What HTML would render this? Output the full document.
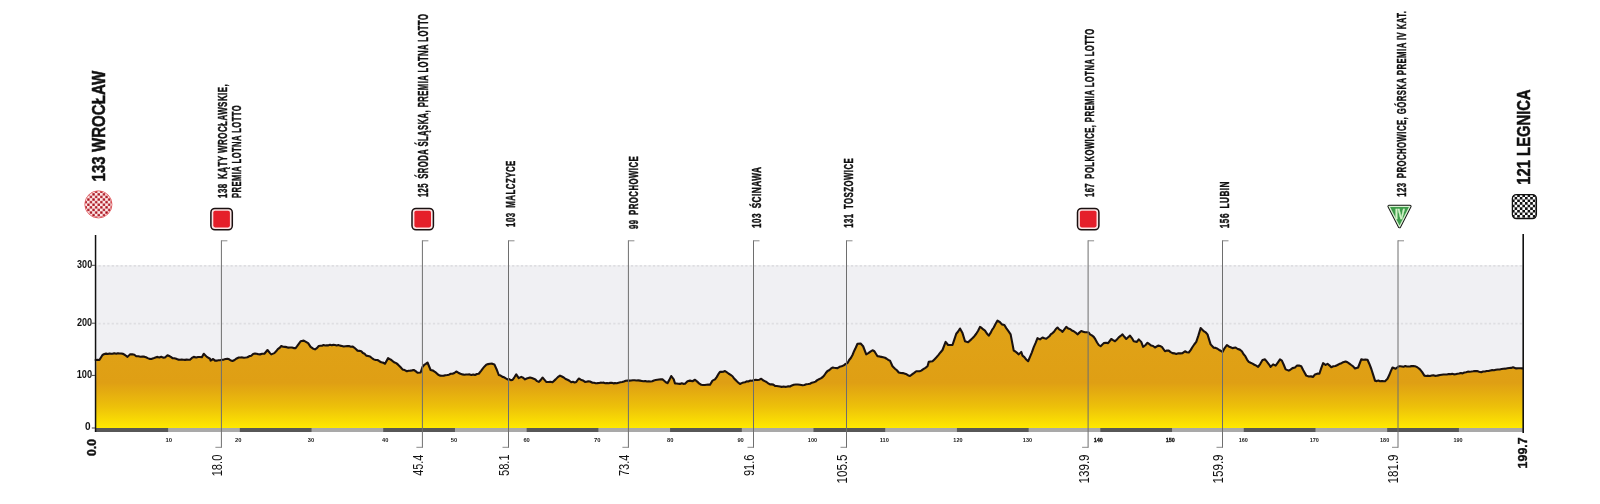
<!DOCTYPE html>
<html><head><meta charset="utf-8"><title>Profile</title>
<style>html,body{margin:0;padding:0;background:#fff;width:1600px;height:504px;overflow:hidden}
svg{display:block;font-family:"Liberation Sans",sans-serif;will-change:transform}</style></head>
<body>
<svg width="1600" height="504" viewBox="0 0 1600 504" font-family="Liberation Sans, sans-serif"><rect x="95.5" y="265.3" width="1427.7" height="162.7" fill="#f0f0f3"/>
<line x1="98.5" y1="265.8" x2="1523.2" y2="265.8" stroke="#dedee2" stroke-width="1.8" stroke-dasharray="2.2 2.2"/>
<line x1="98.5" y1="323.6" x2="1523.2" y2="323.6" stroke="#dedee2" stroke-width="1.8" stroke-dasharray="2.2 2.2"/>
<defs><linearGradient id="g" x1="0" y1="320" x2="0" y2="428" gradientUnits="userSpaceOnUse"><stop offset="0" stop-color="#e0a318"/><stop offset="0.58" stop-color="#df9f14"/><stop offset="0.8" stop-color="#edc00a"/><stop offset="1" stop-color="#ffe900"/></linearGradient></defs>
<path d="M95.5 428.0 L96.30 360.00 L95.62 360.00 L97.50 359.84 L99.38 360.00 L102.50 355.00 L104.38 354.00 L106.06 353.64 L107.75 354.04 L109.44 353.47 L111.12 353.83 L112.81 353.63 L114.50 353.30 L116.19 353.66 L117.88 353.18 L119.56 353.49 L121.25 353.50 L123.12 353.86 L125.00 355.00 L127.50 356.88 L130.00 354.38 L132.19 354.19 L134.38 354.75 L136.25 356.25 L138.33 356.27 L140.42 356.71 L142.50 356.50 L144.25 356.66 L146.00 357.25 L147.75 358.11 L149.50 358.90 L151.25 359.00 L153.33 358.36 L155.42 357.49 L157.50 356.88 L159.38 357.46 L161.25 356.78 L163.12 357.67 L165.00 357.50 L167.50 355.25 L169.17 356.02 L170.83 356.85 L172.50 358.12 L174.38 358.19 L176.25 358.77 L178.12 359.63 L180.00 359.75 L181.67 359.46 L183.33 359.82 L185.00 359.88 L186.67 359.64 L188.33 359.79 L190.00 359.75 L191.88 357.92 L193.75 356.88 L196.25 357.50 L198.12 357.02 L200.00 357.07 L201.88 357.25 L203.75 353.75 L206.88 356.88 L210.00 358.75 L210.62 360.62 L213.12 359.00 L215.00 360.62 L216.67 360.66 L218.33 360.31 L220.00 360.25 L221.88 359.71 L223.75 359.58 L225.62 359.08 L227.50 358.75 L229.17 359.32 L230.83 360.51 L232.50 361.00 L234.58 360.01 L236.67 358.44 L238.75 357.50 L240.50 357.52 L242.25 357.42 L244.00 357.69 L245.75 357.51 L247.50 357.25 L249.38 356.12 L251.25 355.81 L253.12 354.09 L255.00 353.50 L256.67 353.72 L258.33 354.31 L260.00 354.38 L262.19 353.75 L264.38 353.75 L267.50 350.00 L270.00 353.12 L271.25 354.38 L274.38 353.12 L276.09 351.33 L277.81 349.15 L279.53 347.93 L281.25 346.00 L283.12 346.68 L285.00 346.88 L286.67 347.15 L288.33 347.63 L290.00 347.50 L291.88 347.54 L293.75 348.09 L295.62 348.12 L297.29 345.92 L298.96 343.61 L300.62 341.25 L303.75 340.62 L305.94 341.84 L308.12 343.12 L310.62 346.88 L312.81 348.43 L315.00 349.38 L316.88 348.09 L318.75 346.00 L320.36 345.80 L321.96 345.79 L323.57 345.07 L325.18 345.47 L326.79 345.24 L328.39 345.37 L330.00 344.75 L331.67 345.19 L333.33 344.85 L335.00 345.08 L336.67 345.49 L338.33 345.05 L340.00 345.62 L341.88 346.03 L343.75 346.50 L345.50 346.20 L347.25 346.16 L349.00 346.10 L350.75 346.74 L352.50 346.50 L354.17 347.54 L355.83 349.02 L357.50 350.62 L359.38 350.84 L361.25 351.25 L362.92 353.04 L364.58 353.79 L366.25 355.62 L368.12 356.02 L370.00 356.50 L371.88 357.98 L373.75 359.38 L375.62 360.03 L377.50 360.00 L379.38 361.22 L381.25 362.20 L383.12 362.61 L385.00 363.75 L388.12 358.12 L389.75 359.05 L391.38 360.00 L393.00 361.47 L394.62 362.54 L396.25 363.12 L398.33 364.89 L400.42 367.00 L402.50 369.38 L404.69 370.07 L406.88 371.25 L408.59 370.70 L410.31 370.61 L412.03 370.39 L413.75 370.00 L415.62 371.16 L417.50 372.75 L420.62 372.50 L422.50 366.88 L424.17 364.97 L425.83 363.89 L427.50 362.50 L430.62 370.00 L433.12 370.62 L434.84 371.76 L436.56 373.18 L438.28 374.78 L440.00 375.62 L441.88 375.80 L443.75 375.62 L445.50 375.26 L447.25 374.98 L449.00 374.66 L450.75 373.72 L452.50 373.75 L454.38 372.98 L456.25 371.50 L458.33 372.71 L460.42 373.75 L462.50 374.38 L464.29 374.73 L466.07 374.46 L467.86 374.55 L469.64 374.38 L471.43 374.94 L473.21 374.52 L475.00 375.00 L476.88 373.99 L478.75 373.75 L481.25 370.62 L482.92 368.40 L484.58 366.40 L486.25 364.75 L488.12 364.11 L490.00 363.75 L492.19 363.66 L494.38 364.38 L496.56 369.24 L498.75 375.00 L500.62 375.62 L502.50 376.88 L504.17 377.35 L505.83 378.42 L507.50 379.38 L509.17 379.16 L510.83 380.13 L512.50 380.00 L514.38 377.29 L516.25 374.38 L518.75 378.12 L521.25 376.88 L523.12 377.81 L525.00 379.38 L526.67 378.53 L528.33 377.99 L530.00 377.50 L531.88 378.00 L533.75 378.75 L535.42 379.45 L537.08 381.15 L538.75 381.88 L540.62 380.13 L542.50 377.50 L544.38 379.66 L546.25 381.88 L548.33 381.99 L550.42 381.75 L552.50 382.25 L555.62 379.38 L557.81 377.14 L560.00 375.62 L561.88 376.51 L563.75 377.48 L565.62 379.01 L567.50 379.75 L569.38 380.70 L571.25 382.25 L572.92 381.70 L574.58 382.41 L576.25 381.88 L578.75 378.50 L580.83 379.65 L582.92 380.43 L585.00 381.88 L586.67 381.79 L588.33 381.20 L590.00 381.50 L592.50 382.75 L594.11 382.80 L595.71 383.23 L597.32 383.16 L598.93 383.03 L600.54 382.67 L602.14 382.79 L603.75 382.64 L605.36 383.21 L606.96 383.02 L608.57 383.27 L610.18 382.89 L611.79 382.82 L613.39 383.38 L615.00 383.12 L616.79 383.20 L618.57 382.73 L620.36 382.33 L622.14 381.98 L623.93 381.56 L625.71 380.74 L627.50 380.62 L629.29 380.64 L631.07 380.50 L632.86 380.20 L634.64 380.20 L636.43 380.43 L638.21 380.41 L640.00 380.62 L641.75 380.92 L643.50 381.29 L645.25 380.95 L647.00 381.52 L648.75 381.25 L650.47 381.45 L652.19 381.19 L653.91 380.43 L655.62 380.06 L657.34 379.83 L659.06 379.57 L660.78 379.34 L662.50 379.38 L664.17 380.74 L665.83 382.24 L667.50 383.12 L669.38 379.87 L671.25 376.00 L673.75 379.38 L675.00 383.50 L676.67 383.52 L678.33 383.72 L680.00 383.89 L681.67 383.29 L683.33 383.85 L685.00 383.75 L687.50 381.25 L690.00 380.62 L692.50 381.25 L695.00 379.75 L697.50 381.88 L699.38 383.68 L701.25 384.75 L703.00 385.00 L704.75 384.98 L706.50 384.73 L708.25 384.46 L710.00 384.75 L712.50 380.62 L715.00 379.38 L716.67 377.14 L718.33 374.22 L720.00 371.88 L721.67 371.85 L723.33 371.72 L725.00 371.00 L726.88 372.28 L728.75 373.75 L730.62 374.91 L732.50 376.25 L734.38 378.84 L736.25 380.62 L738.12 382.51 L740.00 384.00 L741.67 383.12 L743.33 382.50 L745.00 382.25 L746.67 381.39 L748.33 381.53 L750.00 380.62 L751.88 380.71 L753.75 380.25 L755.62 379.81 L757.50 380.00 L759.38 379.67 L761.25 378.75 L763.00 380.31 L764.75 381.14 L766.50 381.99 L768.25 383.29 L770.00 384.38 L771.67 384.40 L773.33 384.65 L775.00 385.86 L776.67 385.93 L778.33 386.17 L780.00 386.50 L781.67 386.89 L783.33 386.44 L785.00 386.83 L786.67 386.79 L788.33 386.24 L790.00 386.50 L791.88 385.40 L793.75 384.75 L795.83 384.56 L797.92 384.52 L800.00 384.75 L802.50 385.25 L804.38 384.95 L806.25 384.28 L808.12 384.05 L810.00 383.75 L811.88 382.67 L813.75 382.25 L815.50 381.62 L817.25 380.12 L819.00 379.21 L820.75 378.33 L822.50 377.25 L824.17 375.53 L825.83 373.01 L827.50 371.00 L829.17 370.21 L830.83 368.67 L832.50 367.50 L834.17 367.74 L835.83 367.94 L837.50 368.12 L839.58 366.78 L841.67 366.24 L843.75 365.38 L845.62 363.96 L847.50 363.12 L849.17 359.97 L850.83 357.98 L852.50 355.00 L854.17 350.96 L855.83 347.48 L857.50 343.75 L860.62 343.50 L863.12 346.25 L866.25 354.38 L868.33 353.20 L870.42 351.68 L872.50 350.25 L874.38 351.25 L877.50 356.25 L879.38 356.41 L881.25 356.88 L883.12 357.33 L885.00 357.75 L886.67 358.76 L888.33 359.92 L890.00 360.62 L892.50 366.25 L895.00 368.75 L896.88 370.27 L898.75 372.50 L900.83 372.97 L902.92 373.11 L905.00 373.75 L906.67 374.30 L908.33 375.50 L910.00 376.00 L912.08 374.42 L914.17 372.89 L916.25 371.25 L917.92 371.28 L919.58 371.20 L921.25 370.62 L923.33 369.12 L925.42 367.81 L927.50 366.25 L928.75 361.88 L930.62 361.57 L932.50 361.25 L934.38 359.39 L936.25 357.50 L938.33 355.17 L940.42 352.46 L942.50 350.00 L945.62 341.88 L948.12 345.00 L950.31 345.03 L952.50 345.00 L954.38 339.36 L956.25 333.75 L958.12 331.52 L960.00 328.50 L962.50 333.12 L965.00 341.25 L968.12 342.25 L971.25 339.38 L972.92 337.68 L974.58 335.96 L976.25 333.75 L978.12 330.71 L980.00 326.88 L981.67 327.91 L983.33 329.43 L985.00 330.62 L986.88 333.52 L988.75 335.62 L990.42 333.22 L992.08 329.88 L993.75 327.50 L995.62 323.72 L997.50 320.62 L1000.00 322.25 L1001.88 324.38 L1004.38 325.00 L1006.25 328.12 L1008.44 331.20 L1010.62 334.38 L1013.75 350.62 L1015.42 351.49 L1017.08 352.89 L1018.75 354.38 L1021.25 351.88 L1022.50 355.62 L1024.38 357.12 L1026.25 359.53 L1028.12 361.25 L1030.00 356.88 L1031.88 352.36 L1033.75 347.06 L1035.62 342.94 L1037.50 338.12 L1040.00 339.38 L1042.50 337.50 L1044.38 338.27 L1046.25 338.75 L1049.38 336.25 L1051.00 334.18 L1052.62 333.09 L1054.25 331.42 L1055.88 329.00 L1057.50 327.50 L1059.17 329.37 L1060.83 330.33 L1062.50 331.88 L1064.38 329.36 L1066.25 326.88 L1068.12 328.38 L1070.00 329.00 L1071.88 330.42 L1073.75 331.25 L1075.62 332.51 L1077.50 334.38 L1079.38 332.63 L1081.25 331.00 L1083.12 331.64 L1085.00 332.25 L1086.88 332.23 L1088.75 332.50 L1090.00 334.38 L1091.88 335.35 L1093.75 336.88 L1095.42 339.42 L1097.08 342.49 L1098.75 345.00 L1100.62 346.25 L1103.75 343.12 L1105.94 342.69 L1108.12 343.12 L1111.25 339.00 L1113.12 340.17 L1115.00 341.25 L1116.88 339.48 L1118.75 337.38 L1120.62 335.94 L1122.50 334.38 L1124.38 336.80 L1126.25 339.00 L1128.12 337.32 L1130.00 335.62 L1131.88 338.05 L1133.75 341.25 L1136.88 341.88 L1138.75 339.38 L1141.25 341.88 L1143.12 346.88 L1145.31 345.25 L1147.50 342.75 L1149.38 344.20 L1151.25 345.55 L1153.12 345.96 L1155.00 347.50 L1158.12 345.62 L1160.00 346.04 L1161.88 346.88 L1165.00 351.25 L1166.88 350.52 L1168.75 350.62 L1170.62 352.13 L1172.50 353.12 L1174.38 353.36 L1176.25 354.00 L1178.33 353.37 L1180.42 353.35 L1182.50 353.12 L1185.00 351.25 L1186.88 352.25 L1188.75 352.50 L1190.62 350.13 L1192.50 346.97 L1194.38 344.22 L1196.25 341.88 L1198.44 335.38 L1200.62 328.12 L1202.34 329.75 L1204.06 331.43 L1205.78 332.44 L1207.50 334.38 L1210.62 344.38 L1213.75 347.75 L1215.62 347.85 L1217.50 348.75 L1219.17 349.96 L1220.83 350.77 L1222.50 351.88 L1224.69 348.05 L1226.88 345.00 L1228.75 346.44 L1230.62 347.20 L1232.50 348.12 L1235.62 347.50 L1237.71 349.02 L1239.79 349.63 L1241.88 351.25 L1243.59 354.23 L1245.31 356.17 L1247.03 359.55 L1248.75 361.88 L1250.62 362.77 L1252.50 363.61 L1254.38 364.74 L1256.25 365.62 L1258.12 366.88 L1260.31 363.82 L1262.50 360.00 L1265.00 359.38 L1266.88 361.67 L1268.75 364.04 L1270.62 366.88 L1273.12 364.38 L1275.62 365.62 L1277.81 362.52 L1280.00 359.38 L1281.88 360.62 L1283.75 364.76 L1285.62 369.38 L1288.75 370.62 L1290.00 370.00 L1292.50 368.12 L1295.00 367.50 L1296.88 365.62 L1299.06 365.59 L1301.25 366.25 L1303.12 370.00 L1306.25 375.62 L1308.75 376.50 L1310.94 376.38 L1313.12 376.88 L1315.00 374.38 L1317.19 373.66 L1319.38 373.75 L1321.25 368.17 L1323.12 363.12 L1325.62 365.00 L1327.50 363.75 L1329.38 365.33 L1331.25 367.25 L1333.33 366.32 L1335.42 365.98 L1337.50 365.00 L1339.12 364.11 L1340.75 363.60 L1342.38 362.61 L1344.00 362.06 L1345.62 361.50 L1347.50 362.23 L1349.38 363.61 L1351.25 365.00 L1353.12 366.31 L1355.00 368.50 L1358.12 367.50 L1361.25 359.38 L1363.33 359.71 L1365.42 359.67 L1367.50 359.75 L1369.38 363.97 L1371.25 368.75 L1373.12 374.66 L1375.00 380.62 L1376.67 381.12 L1378.33 380.48 L1380.00 381.22 L1381.67 380.98 L1383.33 381.14 L1385.00 381.25 L1387.50 378.75 L1389.17 375.30 L1390.83 371.15 L1392.50 367.50 L1395.62 368.75 L1398.75 366.25 L1400.38 366.26 L1402.00 366.42 L1403.62 366.68 L1405.25 366.11 L1406.88 366.55 L1408.50 366.44 L1410.12 366.37 L1411.75 366.16 L1413.38 366.11 L1415.00 366.25 L1416.67 366.89 L1418.33 368.00 L1420.00 369.38 L1422.19 372.11 L1424.38 375.62 L1426.25 375.97 L1428.12 375.66 L1430.00 376.00 L1431.67 375.54 L1433.33 375.32 L1435.00 375.85 L1436.67 375.72 L1438.33 375.39 L1440.00 375.08 L1441.73 374.74 L1443.46 374.56 L1445.19 374.46 L1446.93 374.47 L1448.66 374.05 L1450.39 374.16 L1452.12 373.86 L1453.85 374.34 L1455.58 374.21 L1457.32 373.68 L1459.05 373.49 L1460.81 372.98 L1462.57 373.35 L1464.34 372.47 L1466.10 372.23 L1467.87 371.63 L1469.63 371.69 L1471.39 371.49 L1473.16 371.24 L1474.92 370.95 L1477.04 371.11 L1479.15 371.80 L1481.27 372.22 L1483.08 371.50 L1484.90 371.47 L1486.71 371.04 L1488.53 371.04 L1490.34 370.45 L1492.15 370.16 L1493.97 370.32 L1495.87 369.82 L1497.78 369.44 L1499.68 369.44 L1501.59 369.07 L1503.49 368.73 L1505.40 368.66 L1507.30 368.29 L1509.21 368.05 L1511.11 367.90 L1513.02 367.27 L1516.19 368.41 L1518.31 368.31 L1520.42 368.26 L1522.54 368.41 L1523.20 368.41 L1523.2 428.0 Z" fill="url(#g)"/>
<path d="M96.30 360.00 L95.62 360.00 L97.50 359.84 L99.38 360.00 L102.50 355.00 L104.38 354.00 L106.06 353.64 L107.75 354.04 L109.44 353.47 L111.12 353.83 L112.81 353.63 L114.50 353.30 L116.19 353.66 L117.88 353.18 L119.56 353.49 L121.25 353.50 L123.12 353.86 L125.00 355.00 L127.50 356.88 L130.00 354.38 L132.19 354.19 L134.38 354.75 L136.25 356.25 L138.33 356.27 L140.42 356.71 L142.50 356.50 L144.25 356.66 L146.00 357.25 L147.75 358.11 L149.50 358.90 L151.25 359.00 L153.33 358.36 L155.42 357.49 L157.50 356.88 L159.38 357.46 L161.25 356.78 L163.12 357.67 L165.00 357.50 L167.50 355.25 L169.17 356.02 L170.83 356.85 L172.50 358.12 L174.38 358.19 L176.25 358.77 L178.12 359.63 L180.00 359.75 L181.67 359.46 L183.33 359.82 L185.00 359.88 L186.67 359.64 L188.33 359.79 L190.00 359.75 L191.88 357.92 L193.75 356.88 L196.25 357.50 L198.12 357.02 L200.00 357.07 L201.88 357.25 L203.75 353.75 L206.88 356.88 L210.00 358.75 L210.62 360.62 L213.12 359.00 L215.00 360.62 L216.67 360.66 L218.33 360.31 L220.00 360.25 L221.88 359.71 L223.75 359.58 L225.62 359.08 L227.50 358.75 L229.17 359.32 L230.83 360.51 L232.50 361.00 L234.58 360.01 L236.67 358.44 L238.75 357.50 L240.50 357.52 L242.25 357.42 L244.00 357.69 L245.75 357.51 L247.50 357.25 L249.38 356.12 L251.25 355.81 L253.12 354.09 L255.00 353.50 L256.67 353.72 L258.33 354.31 L260.00 354.38 L262.19 353.75 L264.38 353.75 L267.50 350.00 L270.00 353.12 L271.25 354.38 L274.38 353.12 L276.09 351.33 L277.81 349.15 L279.53 347.93 L281.25 346.00 L283.12 346.68 L285.00 346.88 L286.67 347.15 L288.33 347.63 L290.00 347.50 L291.88 347.54 L293.75 348.09 L295.62 348.12 L297.29 345.92 L298.96 343.61 L300.62 341.25 L303.75 340.62 L305.94 341.84 L308.12 343.12 L310.62 346.88 L312.81 348.43 L315.00 349.38 L316.88 348.09 L318.75 346.00 L320.36 345.80 L321.96 345.79 L323.57 345.07 L325.18 345.47 L326.79 345.24 L328.39 345.37 L330.00 344.75 L331.67 345.19 L333.33 344.85 L335.00 345.08 L336.67 345.49 L338.33 345.05 L340.00 345.62 L341.88 346.03 L343.75 346.50 L345.50 346.20 L347.25 346.16 L349.00 346.10 L350.75 346.74 L352.50 346.50 L354.17 347.54 L355.83 349.02 L357.50 350.62 L359.38 350.84 L361.25 351.25 L362.92 353.04 L364.58 353.79 L366.25 355.62 L368.12 356.02 L370.00 356.50 L371.88 357.98 L373.75 359.38 L375.62 360.03 L377.50 360.00 L379.38 361.22 L381.25 362.20 L383.12 362.61 L385.00 363.75 L388.12 358.12 L389.75 359.05 L391.38 360.00 L393.00 361.47 L394.62 362.54 L396.25 363.12 L398.33 364.89 L400.42 367.00 L402.50 369.38 L404.69 370.07 L406.88 371.25 L408.59 370.70 L410.31 370.61 L412.03 370.39 L413.75 370.00 L415.62 371.16 L417.50 372.75 L420.62 372.50 L422.50 366.88 L424.17 364.97 L425.83 363.89 L427.50 362.50 L430.62 370.00 L433.12 370.62 L434.84 371.76 L436.56 373.18 L438.28 374.78 L440.00 375.62 L441.88 375.80 L443.75 375.62 L445.50 375.26 L447.25 374.98 L449.00 374.66 L450.75 373.72 L452.50 373.75 L454.38 372.98 L456.25 371.50 L458.33 372.71 L460.42 373.75 L462.50 374.38 L464.29 374.73 L466.07 374.46 L467.86 374.55 L469.64 374.38 L471.43 374.94 L473.21 374.52 L475.00 375.00 L476.88 373.99 L478.75 373.75 L481.25 370.62 L482.92 368.40 L484.58 366.40 L486.25 364.75 L488.12 364.11 L490.00 363.75 L492.19 363.66 L494.38 364.38 L496.56 369.24 L498.75 375.00 L500.62 375.62 L502.50 376.88 L504.17 377.35 L505.83 378.42 L507.50 379.38 L509.17 379.16 L510.83 380.13 L512.50 380.00 L514.38 377.29 L516.25 374.38 L518.75 378.12 L521.25 376.88 L523.12 377.81 L525.00 379.38 L526.67 378.53 L528.33 377.99 L530.00 377.50 L531.88 378.00 L533.75 378.75 L535.42 379.45 L537.08 381.15 L538.75 381.88 L540.62 380.13 L542.50 377.50 L544.38 379.66 L546.25 381.88 L548.33 381.99 L550.42 381.75 L552.50 382.25 L555.62 379.38 L557.81 377.14 L560.00 375.62 L561.88 376.51 L563.75 377.48 L565.62 379.01 L567.50 379.75 L569.38 380.70 L571.25 382.25 L572.92 381.70 L574.58 382.41 L576.25 381.88 L578.75 378.50 L580.83 379.65 L582.92 380.43 L585.00 381.88 L586.67 381.79 L588.33 381.20 L590.00 381.50 L592.50 382.75 L594.11 382.80 L595.71 383.23 L597.32 383.16 L598.93 383.03 L600.54 382.67 L602.14 382.79 L603.75 382.64 L605.36 383.21 L606.96 383.02 L608.57 383.27 L610.18 382.89 L611.79 382.82 L613.39 383.38 L615.00 383.12 L616.79 383.20 L618.57 382.73 L620.36 382.33 L622.14 381.98 L623.93 381.56 L625.71 380.74 L627.50 380.62 L629.29 380.64 L631.07 380.50 L632.86 380.20 L634.64 380.20 L636.43 380.43 L638.21 380.41 L640.00 380.62 L641.75 380.92 L643.50 381.29 L645.25 380.95 L647.00 381.52 L648.75 381.25 L650.47 381.45 L652.19 381.19 L653.91 380.43 L655.62 380.06 L657.34 379.83 L659.06 379.57 L660.78 379.34 L662.50 379.38 L664.17 380.74 L665.83 382.24 L667.50 383.12 L669.38 379.87 L671.25 376.00 L673.75 379.38 L675.00 383.50 L676.67 383.52 L678.33 383.72 L680.00 383.89 L681.67 383.29 L683.33 383.85 L685.00 383.75 L687.50 381.25 L690.00 380.62 L692.50 381.25 L695.00 379.75 L697.50 381.88 L699.38 383.68 L701.25 384.75 L703.00 385.00 L704.75 384.98 L706.50 384.73 L708.25 384.46 L710.00 384.75 L712.50 380.62 L715.00 379.38 L716.67 377.14 L718.33 374.22 L720.00 371.88 L721.67 371.85 L723.33 371.72 L725.00 371.00 L726.88 372.28 L728.75 373.75 L730.62 374.91 L732.50 376.25 L734.38 378.84 L736.25 380.62 L738.12 382.51 L740.00 384.00 L741.67 383.12 L743.33 382.50 L745.00 382.25 L746.67 381.39 L748.33 381.53 L750.00 380.62 L751.88 380.71 L753.75 380.25 L755.62 379.81 L757.50 380.00 L759.38 379.67 L761.25 378.75 L763.00 380.31 L764.75 381.14 L766.50 381.99 L768.25 383.29 L770.00 384.38 L771.67 384.40 L773.33 384.65 L775.00 385.86 L776.67 385.93 L778.33 386.17 L780.00 386.50 L781.67 386.89 L783.33 386.44 L785.00 386.83 L786.67 386.79 L788.33 386.24 L790.00 386.50 L791.88 385.40 L793.75 384.75 L795.83 384.56 L797.92 384.52 L800.00 384.75 L802.50 385.25 L804.38 384.95 L806.25 384.28 L808.12 384.05 L810.00 383.75 L811.88 382.67 L813.75 382.25 L815.50 381.62 L817.25 380.12 L819.00 379.21 L820.75 378.33 L822.50 377.25 L824.17 375.53 L825.83 373.01 L827.50 371.00 L829.17 370.21 L830.83 368.67 L832.50 367.50 L834.17 367.74 L835.83 367.94 L837.50 368.12 L839.58 366.78 L841.67 366.24 L843.75 365.38 L845.62 363.96 L847.50 363.12 L849.17 359.97 L850.83 357.98 L852.50 355.00 L854.17 350.96 L855.83 347.48 L857.50 343.75 L860.62 343.50 L863.12 346.25 L866.25 354.38 L868.33 353.20 L870.42 351.68 L872.50 350.25 L874.38 351.25 L877.50 356.25 L879.38 356.41 L881.25 356.88 L883.12 357.33 L885.00 357.75 L886.67 358.76 L888.33 359.92 L890.00 360.62 L892.50 366.25 L895.00 368.75 L896.88 370.27 L898.75 372.50 L900.83 372.97 L902.92 373.11 L905.00 373.75 L906.67 374.30 L908.33 375.50 L910.00 376.00 L912.08 374.42 L914.17 372.89 L916.25 371.25 L917.92 371.28 L919.58 371.20 L921.25 370.62 L923.33 369.12 L925.42 367.81 L927.50 366.25 L928.75 361.88 L930.62 361.57 L932.50 361.25 L934.38 359.39 L936.25 357.50 L938.33 355.17 L940.42 352.46 L942.50 350.00 L945.62 341.88 L948.12 345.00 L950.31 345.03 L952.50 345.00 L954.38 339.36 L956.25 333.75 L958.12 331.52 L960.00 328.50 L962.50 333.12 L965.00 341.25 L968.12 342.25 L971.25 339.38 L972.92 337.68 L974.58 335.96 L976.25 333.75 L978.12 330.71 L980.00 326.88 L981.67 327.91 L983.33 329.43 L985.00 330.62 L986.88 333.52 L988.75 335.62 L990.42 333.22 L992.08 329.88 L993.75 327.50 L995.62 323.72 L997.50 320.62 L1000.00 322.25 L1001.88 324.38 L1004.38 325.00 L1006.25 328.12 L1008.44 331.20 L1010.62 334.38 L1013.75 350.62 L1015.42 351.49 L1017.08 352.89 L1018.75 354.38 L1021.25 351.88 L1022.50 355.62 L1024.38 357.12 L1026.25 359.53 L1028.12 361.25 L1030.00 356.88 L1031.88 352.36 L1033.75 347.06 L1035.62 342.94 L1037.50 338.12 L1040.00 339.38 L1042.50 337.50 L1044.38 338.27 L1046.25 338.75 L1049.38 336.25 L1051.00 334.18 L1052.62 333.09 L1054.25 331.42 L1055.88 329.00 L1057.50 327.50 L1059.17 329.37 L1060.83 330.33 L1062.50 331.88 L1064.38 329.36 L1066.25 326.88 L1068.12 328.38 L1070.00 329.00 L1071.88 330.42 L1073.75 331.25 L1075.62 332.51 L1077.50 334.38 L1079.38 332.63 L1081.25 331.00 L1083.12 331.64 L1085.00 332.25 L1086.88 332.23 L1088.75 332.50 L1090.00 334.38 L1091.88 335.35 L1093.75 336.88 L1095.42 339.42 L1097.08 342.49 L1098.75 345.00 L1100.62 346.25 L1103.75 343.12 L1105.94 342.69 L1108.12 343.12 L1111.25 339.00 L1113.12 340.17 L1115.00 341.25 L1116.88 339.48 L1118.75 337.38 L1120.62 335.94 L1122.50 334.38 L1124.38 336.80 L1126.25 339.00 L1128.12 337.32 L1130.00 335.62 L1131.88 338.05 L1133.75 341.25 L1136.88 341.88 L1138.75 339.38 L1141.25 341.88 L1143.12 346.88 L1145.31 345.25 L1147.50 342.75 L1149.38 344.20 L1151.25 345.55 L1153.12 345.96 L1155.00 347.50 L1158.12 345.62 L1160.00 346.04 L1161.88 346.88 L1165.00 351.25 L1166.88 350.52 L1168.75 350.62 L1170.62 352.13 L1172.50 353.12 L1174.38 353.36 L1176.25 354.00 L1178.33 353.37 L1180.42 353.35 L1182.50 353.12 L1185.00 351.25 L1186.88 352.25 L1188.75 352.50 L1190.62 350.13 L1192.50 346.97 L1194.38 344.22 L1196.25 341.88 L1198.44 335.38 L1200.62 328.12 L1202.34 329.75 L1204.06 331.43 L1205.78 332.44 L1207.50 334.38 L1210.62 344.38 L1213.75 347.75 L1215.62 347.85 L1217.50 348.75 L1219.17 349.96 L1220.83 350.77 L1222.50 351.88 L1224.69 348.05 L1226.88 345.00 L1228.75 346.44 L1230.62 347.20 L1232.50 348.12 L1235.62 347.50 L1237.71 349.02 L1239.79 349.63 L1241.88 351.25 L1243.59 354.23 L1245.31 356.17 L1247.03 359.55 L1248.75 361.88 L1250.62 362.77 L1252.50 363.61 L1254.38 364.74 L1256.25 365.62 L1258.12 366.88 L1260.31 363.82 L1262.50 360.00 L1265.00 359.38 L1266.88 361.67 L1268.75 364.04 L1270.62 366.88 L1273.12 364.38 L1275.62 365.62 L1277.81 362.52 L1280.00 359.38 L1281.88 360.62 L1283.75 364.76 L1285.62 369.38 L1288.75 370.62 L1290.00 370.00 L1292.50 368.12 L1295.00 367.50 L1296.88 365.62 L1299.06 365.59 L1301.25 366.25 L1303.12 370.00 L1306.25 375.62 L1308.75 376.50 L1310.94 376.38 L1313.12 376.88 L1315.00 374.38 L1317.19 373.66 L1319.38 373.75 L1321.25 368.17 L1323.12 363.12 L1325.62 365.00 L1327.50 363.75 L1329.38 365.33 L1331.25 367.25 L1333.33 366.32 L1335.42 365.98 L1337.50 365.00 L1339.12 364.11 L1340.75 363.60 L1342.38 362.61 L1344.00 362.06 L1345.62 361.50 L1347.50 362.23 L1349.38 363.61 L1351.25 365.00 L1353.12 366.31 L1355.00 368.50 L1358.12 367.50 L1361.25 359.38 L1363.33 359.71 L1365.42 359.67 L1367.50 359.75 L1369.38 363.97 L1371.25 368.75 L1373.12 374.66 L1375.00 380.62 L1376.67 381.12 L1378.33 380.48 L1380.00 381.22 L1381.67 380.98 L1383.33 381.14 L1385.00 381.25 L1387.50 378.75 L1389.17 375.30 L1390.83 371.15 L1392.50 367.50 L1395.62 368.75 L1398.75 366.25 L1400.38 366.26 L1402.00 366.42 L1403.62 366.68 L1405.25 366.11 L1406.88 366.55 L1408.50 366.44 L1410.12 366.37 L1411.75 366.16 L1413.38 366.11 L1415.00 366.25 L1416.67 366.89 L1418.33 368.00 L1420.00 369.38 L1422.19 372.11 L1424.38 375.62 L1426.25 375.97 L1428.12 375.66 L1430.00 376.00 L1431.67 375.54 L1433.33 375.32 L1435.00 375.85 L1436.67 375.72 L1438.33 375.39 L1440.00 375.08 L1441.73 374.74 L1443.46 374.56 L1445.19 374.46 L1446.93 374.47 L1448.66 374.05 L1450.39 374.16 L1452.12 373.86 L1453.85 374.34 L1455.58 374.21 L1457.32 373.68 L1459.05 373.49 L1460.81 372.98 L1462.57 373.35 L1464.34 372.47 L1466.10 372.23 L1467.87 371.63 L1469.63 371.69 L1471.39 371.49 L1473.16 371.24 L1474.92 370.95 L1477.04 371.11 L1479.15 371.80 L1481.27 372.22 L1483.08 371.50 L1484.90 371.47 L1486.71 371.04 L1488.53 371.04 L1490.34 370.45 L1492.15 370.16 L1493.97 370.32 L1495.87 369.82 L1497.78 369.44 L1499.68 369.44 L1501.59 369.07 L1503.49 368.73 L1505.40 368.66 L1507.30 368.29 L1509.21 368.05 L1511.11 367.90 L1513.02 367.27 L1516.19 368.41 L1518.31 368.31 L1520.42 368.26 L1522.54 368.41 L1523.20 368.41" fill="none" stroke="#1a1210" stroke-width="2.1" stroke-linejoin="round"/>
<rect x="95.5" y="428" width="1427.7" height="4" fill="#a9a9a9"/>
<rect x="95.50" y="428" width="72.61" height="4" fill="#575757"/>
<rect x="239.82" y="428" width="71.71" height="4" fill="#575757"/>
<rect x="383.24" y="428" width="71.71" height="4" fill="#575757"/>
<rect x="526.66" y="428" width="71.71" height="4" fill="#575757"/>
<rect x="670.08" y="428" width="71.71" height="4" fill="#575757"/>
<rect x="813.50" y="428" width="71.71" height="4" fill="#575757"/>
<rect x="956.92" y="428" width="71.71" height="4" fill="#575757"/>
<rect x="1100.34" y="428" width="71.71" height="4" fill="#575757"/>
<rect x="1243.76" y="428" width="71.71" height="4" fill="#575757"/>
<rect x="1387.18" y="428" width="71.71" height="4" fill="#575757"/>
<rect x="94.8" y="235" width="1.5" height="197" fill="#111"/>
<rect x="1522.4" y="234" width="1.6" height="199" fill="#111"/>
<text x="77.09" y="267.70" font-size="10.47" font-weight="bold" textLength="15.08" lengthAdjust="spacingAndGlyphs" fill="#111">300</text>
<line x1="91.8" y1="265.3" x2="95" y2="265.3" stroke="#444" stroke-width="1"/>
<text x="76.98" y="326.00" font-size="11.19" font-weight="bold" textLength="15.19" lengthAdjust="spacingAndGlyphs" fill="#111">200</text>
<line x1="91.8" y1="323.2" x2="95" y2="323.2" stroke="#444" stroke-width="1"/>
<text x="76.72" y="378.40" font-size="10.90" font-weight="bold" textLength="15.46" lengthAdjust="spacingAndGlyphs" fill="#111">100</text>
<line x1="91.8" y1="375.4" x2="95" y2="375.4" stroke="#444" stroke-width="1"/>
<text x="85.00" y="429.50" font-size="11.05" font-weight="bold" textLength="5.61" lengthAdjust="spacingAndGlyphs" fill="#111">0</text>
<line x1="91.8" y1="428" x2="95" y2="428" stroke="#444" stroke-width="1"/>
<text x="165.38" y="441.90" font-size="6.25" font-weight="bold" textLength="6.62" lengthAdjust="spacingAndGlyphs" fill="#1a1a1a">10</text>
<text x="235.10" y="441.90" font-size="6.25" font-weight="bold" textLength="6.44" lengthAdjust="spacingAndGlyphs" fill="#1a1a1a">20</text>
<text x="307.77" y="441.90" font-size="6.25" font-weight="bold" textLength="6.37" lengthAdjust="spacingAndGlyphs" fill="#1a1a1a">30</text>
<text x="382.11" y="441.90" font-size="6.25" font-weight="bold" textLength="6.32" lengthAdjust="spacingAndGlyphs" fill="#1a1a1a">40</text>
<text x="450.72" y="441.90" font-size="6.25" font-weight="bold" textLength="6.41" lengthAdjust="spacingAndGlyphs" fill="#1a1a1a">50</text>
<text x="523.39" y="441.90" font-size="6.25" font-weight="bold" textLength="6.45" lengthAdjust="spacingAndGlyphs" fill="#1a1a1a">60</text>
<text x="593.95" y="441.90" font-size="6.25" font-weight="bold" textLength="6.49" lengthAdjust="spacingAndGlyphs" fill="#1a1a1a">70</text>
<text x="667.12" y="441.90" font-size="6.25" font-weight="bold" textLength="6.42" lengthAdjust="spacingAndGlyphs" fill="#1a1a1a">80</text>
<text x="737.40" y="441.90" font-size="6.25" font-weight="bold" textLength="6.44" lengthAdjust="spacingAndGlyphs" fill="#1a1a1a">90</text>
<text x="807.85" y="441.90" font-size="6.25" font-weight="bold" textLength="9.17" lengthAdjust="spacingAndGlyphs" fill="#1a1a1a">100</text>
<text x="879.75" y="441.90" font-size="6.25" font-weight="bold" textLength="9.17" lengthAdjust="spacingAndGlyphs" fill="#1a1a1a">110</text>
<text x="953.35" y="441.90" font-size="6.25" font-weight="bold" textLength="9.17" lengthAdjust="spacingAndGlyphs" fill="#1a1a1a">120</text>
<text x="1022.85" y="441.90" font-size="6.25" font-weight="bold" textLength="9.17" lengthAdjust="spacingAndGlyphs" fill="#1a1a1a">130</text>
<text x="1093.75" y="441.90" font-size="6.25" font-weight="bold" textLength="9.17" lengthAdjust="spacingAndGlyphs" fill="#111" stroke="#111" stroke-width="0.3">140</text>
<text x="1165.65" y="441.90" font-size="6.25" font-weight="bold" textLength="9.17" lengthAdjust="spacingAndGlyphs" fill="#111" stroke="#111" stroke-width="0.3">150</text>
<text x="1238.65" y="441.90" font-size="6.25" font-weight="bold" textLength="9.17" lengthAdjust="spacingAndGlyphs" fill="#1a1a1a">160</text>
<text x="1309.75" y="441.90" font-size="6.25" font-weight="bold" textLength="9.17" lengthAdjust="spacingAndGlyphs" fill="#1a1a1a">170</text>
<text x="1380.05" y="441.90" font-size="6.25" font-weight="bold" textLength="9.17" lengthAdjust="spacingAndGlyphs" fill="#1a1a1a">180</text>
<text x="1453.45" y="441.90" font-size="6.25" font-weight="bold" textLength="9.17" lengthAdjust="spacingAndGlyphs" fill="#1a1a1a">190</text>
<line x1="221.4" y1="240.3" x2="221.4" y2="447.8" stroke="#6e6e6e" stroke-width="1"/>
<line x1="221.4" y1="240.8" x2="227.4" y2="240.8" stroke="#8a8a8a" stroke-width="1"/>
<line x1="215.4" y1="447.3" x2="221.4" y2="447.3" stroke="#8a8a8a" stroke-width="1"/>
<line x1="422.4" y1="240.3" x2="422.4" y2="447.8" stroke="#6e6e6e" stroke-width="1"/>
<line x1="422.4" y1="240.8" x2="428.4" y2="240.8" stroke="#8a8a8a" stroke-width="1"/>
<line x1="416.4" y1="447.3" x2="422.4" y2="447.3" stroke="#8a8a8a" stroke-width="1"/>
<line x1="508.5" y1="240.3" x2="508.5" y2="447.8" stroke="#6e6e6e" stroke-width="1"/>
<line x1="508.5" y1="240.8" x2="514.5" y2="240.8" stroke="#8a8a8a" stroke-width="1"/>
<line x1="502.5" y1="447.3" x2="508.5" y2="447.3" stroke="#8a8a8a" stroke-width="1"/>
<line x1="628.4" y1="240.3" x2="628.4" y2="447.8" stroke="#6e6e6e" stroke-width="1"/>
<line x1="628.4" y1="240.8" x2="634.4" y2="240.8" stroke="#8a8a8a" stroke-width="1"/>
<line x1="622.4" y1="447.3" x2="628.4" y2="447.3" stroke="#8a8a8a" stroke-width="1"/>
<line x1="753.5" y1="240.3" x2="753.5" y2="447.8" stroke="#6e6e6e" stroke-width="1"/>
<line x1="753.5" y1="240.8" x2="759.5" y2="240.8" stroke="#8a8a8a" stroke-width="1"/>
<line x1="747.5" y1="447.3" x2="753.5" y2="447.3" stroke="#8a8a8a" stroke-width="1"/>
<line x1="846.5" y1="240.3" x2="846.5" y2="447.8" stroke="#6e6e6e" stroke-width="1"/>
<line x1="846.5" y1="240.8" x2="852.5" y2="240.8" stroke="#8a8a8a" stroke-width="1"/>
<line x1="840.5" y1="447.3" x2="846.5" y2="447.3" stroke="#8a8a8a" stroke-width="1"/>
<line x1="1088.1" y1="240.3" x2="1088.1" y2="447.8" stroke="#6e6e6e" stroke-width="1"/>
<line x1="1088.1" y1="240.8" x2="1094.1" y2="240.8" stroke="#8a8a8a" stroke-width="1"/>
<line x1="1082.1" y1="447.3" x2="1088.1" y2="447.3" stroke="#8a8a8a" stroke-width="1"/>
<line x1="1222.5" y1="240.3" x2="1222.5" y2="447.8" stroke="#6e6e6e" stroke-width="1"/>
<line x1="1222.5" y1="240.8" x2="1228.5" y2="240.8" stroke="#8a8a8a" stroke-width="1"/>
<line x1="1216.5" y1="447.3" x2="1222.5" y2="447.3" stroke="#8a8a8a" stroke-width="1"/>
<line x1="1398.0" y1="240.3" x2="1398.0" y2="447.8" stroke="#6e6e6e" stroke-width="1"/>
<line x1="1398.0" y1="240.8" x2="1404.0" y2="240.8" stroke="#8a8a8a" stroke-width="1"/>
<line x1="1392.0" y1="447.3" x2="1398.0" y2="447.3" stroke="#8a8a8a" stroke-width="1"/>
<text transform="translate(105.40 181.44) rotate(-90)" font-size="18.46" font-weight="bold" textLength="110.76" lengthAdjust="spacingAndGlyphs" fill="#111" stroke="#111" stroke-width="0.50">133 WROCŁAW</text>
<text transform="translate(226.80 198.00) rotate(-90)" font-size="13.66" font-weight="bold" textLength="114.19" lengthAdjust="spacingAndGlyphs" fill="#111" stroke="#111" stroke-width="0.45" letter-spacing="0.80">138 KĄTY WROCŁAWSKIE,</text>
<text transform="translate(240.80 198.01) rotate(-90)" font-size="13.66" font-weight="bold" textLength="93.17" lengthAdjust="spacingAndGlyphs" fill="#111" stroke="#111" stroke-width="0.45" letter-spacing="0.80">PREMIA LOTNA LOTTO</text>
<text transform="translate(428.30 197.08) rotate(-90)" font-size="13.81" font-weight="bold" textLength="183.44" lengthAdjust="spacingAndGlyphs" fill="#111" stroke="#111" stroke-width="0.45" letter-spacing="0.80">125 ŚRODA ŚLĄSKA, PREMIA LOTNA LOTTO</text>
<text transform="translate(515.40 226.90) rotate(-90)" font-size="13.66" font-weight="bold" textLength="66.77" lengthAdjust="spacingAndGlyphs" fill="#111" stroke="#111" stroke-width="0.45" letter-spacing="0.80">103 MALCZYCE</text>
<text transform="translate(638.00 228.97) rotate(-90)" font-size="13.66" font-weight="bold" textLength="73.23" lengthAdjust="spacingAndGlyphs" fill="#111" stroke="#111" stroke-width="0.45" letter-spacing="0.80">99 PROCHOWICE</text>
<text transform="translate(761.40 228.11) rotate(-90)" font-size="13.66" font-weight="bold" textLength="61.50" lengthAdjust="spacingAndGlyphs" fill="#111" stroke="#111" stroke-width="0.45" letter-spacing="0.80">103 ŚCINAWA</text>
<text transform="translate(852.50 227.79) rotate(-90)" font-size="13.52" font-weight="bold" textLength="70.06" lengthAdjust="spacingAndGlyphs" fill="#111" stroke="#111" stroke-width="0.45" letter-spacing="0.80">131 TOSZOWICE</text>
<text transform="translate(1093.60 197.08) rotate(-90)" font-size="13.52" font-weight="bold" textLength="168.85" lengthAdjust="spacingAndGlyphs" fill="#111" stroke="#111" stroke-width="0.45" letter-spacing="0.80">167 POLKOWICE, PREMIA LOTNA LOTTO</text>
<text transform="translate(1228.70 228.22) rotate(-90)" font-size="13.66" font-weight="bold" textLength="47.25" lengthAdjust="spacingAndGlyphs" fill="#111" stroke="#111" stroke-width="0.45" letter-spacing="0.80">156 LUBIN</text>
<text transform="translate(1405.80 196.78) rotate(-90)" font-size="13.66" font-weight="bold" textLength="186.06" lengthAdjust="spacingAndGlyphs" fill="#111" stroke="#111" stroke-width="0.45" letter-spacing="0.80">123 PROCHOWICE, GÓRSKA PREMIA IV KAT.</text>
<text transform="translate(1529.50 184.63) rotate(-90)" font-size="17.44" font-weight="bold" textLength="95.22" lengthAdjust="spacingAndGlyphs" fill="#111" stroke="#111" stroke-width="0.50">121 LEGNICA</text>
<text transform="translate(96.00 455.98) rotate(-90)" font-size="13.08" font-weight="bold" textLength="16.98" lengthAdjust="spacingAndGlyphs" fill="#111" stroke="#111" stroke-width="0.40">0.0</text>
<text transform="translate(1527.40 468.38) rotate(-90)" font-size="13.66" font-weight="bold" textLength="31.03" lengthAdjust="spacingAndGlyphs" fill="#111" stroke="#111" stroke-width="0.40">199.7</text>
<text transform="translate(221.80 476.35) rotate(-90)" font-size="14.24" font-weight="normal" textLength="21.79" lengthAdjust="spacingAndGlyphs" fill="#111">18.0</text>
<text transform="translate(422.80 475.75) rotate(-90)" font-size="14.24" font-weight="normal" textLength="21.07" lengthAdjust="spacingAndGlyphs" fill="#111">45.4</text>
<text transform="translate(508.90 475.94) rotate(-90)" font-size="14.24" font-weight="normal" textLength="21.48" lengthAdjust="spacingAndGlyphs" fill="#111">58.1</text>
<text transform="translate(628.80 476.06) rotate(-90)" font-size="14.24" font-weight="normal" textLength="21.39" lengthAdjust="spacingAndGlyphs" fill="#111">73.4</text>
<text transform="translate(753.90 476.02) rotate(-90)" font-size="14.24" font-weight="normal" textLength="21.50" lengthAdjust="spacingAndGlyphs" fill="#111">91.6</text>
<text transform="translate(846.90 483.38) rotate(-90)" font-size="14.24" font-weight="normal" textLength="28.86" lengthAdjust="spacingAndGlyphs" fill="#111">105.5</text>
<text transform="translate(1088.50 483.38) rotate(-90)" font-size="14.24" font-weight="normal" textLength="28.93" lengthAdjust="spacingAndGlyphs" fill="#111">139.9</text>
<text transform="translate(1222.90 483.38) rotate(-90)" font-size="14.24" font-weight="normal" textLength="28.93" lengthAdjust="spacingAndGlyphs" fill="#111">159.9</text>
<text transform="translate(1398.40 483.38) rotate(-90)" font-size="14.24" font-weight="normal" textLength="28.93" lengthAdjust="spacingAndGlyphs" fill="#111">181.9</text>
<defs><pattern id="chk" x="84.4" y="190.4" width="5.2" height="5.2" patternUnits="userSpaceOnUse"><rect width="5.2" height="5.2" fill="#fde6e6"/><rect x="0.2" y="0.2" width="2.3" height="2.3" fill="#a80e1a"/><rect x="2.8" y="2.8" width="2.3" height="2.3" fill="#a80e1a"/></pattern><pattern id="chk2" x="1512" y="194.3" width="5.2" height="5.2" patternUnits="userSpaceOnUse"><rect width="5.2" height="5.2" fill="#fff"/><rect width="2.6" height="2.6" fill="#111"/><rect x="2.6" y="2.6" width="2.6" height="2.6" fill="#111"/></pattern></defs>
<circle cx="98.4" cy="204.4" r="13.6" fill="url(#chk)" stroke="#e55a60" stroke-width="0.8"/>
<rect x="1512.4" y="194.6" width="24" height="24" rx="4" fill="url(#chk2)" stroke="#111" stroke-width="1.3"/>
<rect x="210.9" y="208.4" width="21.4" height="21.4" rx="4" fill="#fbe3e3" stroke="#1a1010" stroke-width="1.5"/>
<rect x="213.3" y="210.8" width="16.6" height="16.6" rx="1.8" fill="#e51f2a"/>
<rect x="412.0" y="208.4" width="21.4" height="21.4" rx="4" fill="#fbe3e3" stroke="#1a1010" stroke-width="1.5"/>
<rect x="414.4" y="210.8" width="16.6" height="16.6" rx="1.8" fill="#e51f2a"/>
<rect x="1077.5" y="208.4" width="21.4" height="21.4" rx="4" fill="#fbe3e3" stroke="#1a1010" stroke-width="1.5"/>
<rect x="1079.9" y="210.8" width="16.6" height="16.6" rx="1.8" fill="#e51f2a"/>
<path d="M1389.0 206.3 L1410.0 206.3 L1399.5 226.7 Z" fill="#3f9c4b" stroke="#151515" stroke-width="3.2" stroke-linejoin="round"/>
<path d="M1389.0 206.3 L1410.0 206.3 L1399.5 226.7 Z" fill="#3f9c4b" stroke="#d9f4d2" stroke-width="1.3" stroke-linejoin="round"/>
<text x="1394.89" y="218.60" font-size="14.39" font-weight="bold" textLength="9.98" lengthAdjust="spacingAndGlyphs" fill="#d2f2c8" stroke="#d2f2c8" stroke-width="0.35">IV</text></svg>
</body></html>
